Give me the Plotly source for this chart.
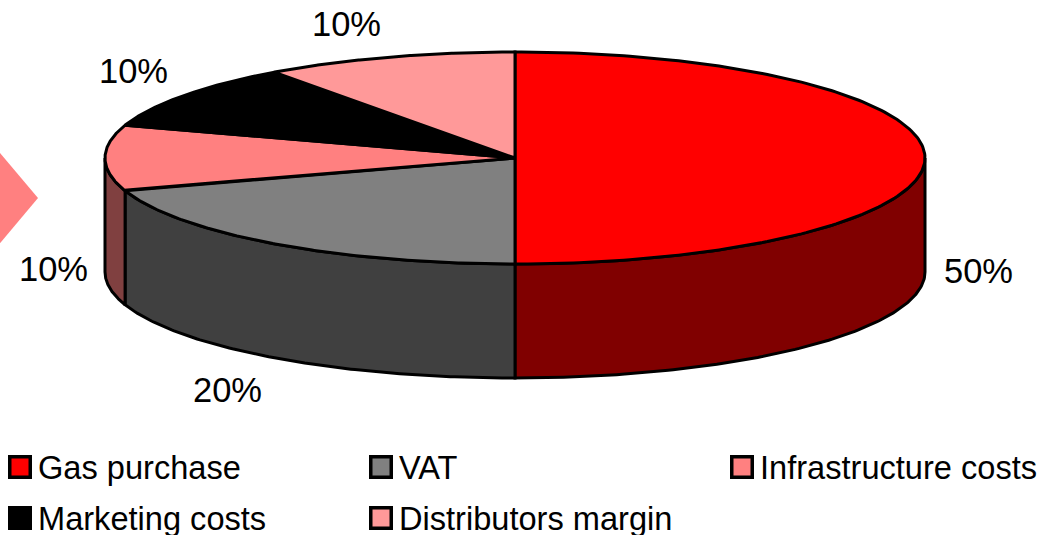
import numpy as np
import plotly.graph_objects as go

categories = ["Gas purchase", "VAT", "Infrastructure costs", "Marketing costs", "Distributors margin"]
values = [50, 20, 10, 10, 10]
top_colors = ["#FF0000", "#808080", "#FF8080", "#000000", "#FF9999"]
side_colors = ["#800000", "#404040", "#804040", "#000000", "#804C4C"]

# Pie geometry on a pixel-like axis
CX, CY, RX, RY, DEPTH = 515, 158, 410, 106, 114
LW = 3
LABEL_FONT = dict(family="Liberation Sans, Arial, sans-serif", size=34.5, color="#000000")
LEGEND_FONT = dict(family="Liberation Sans, Arial, sans-serif", size=32.6, color="#000000")

label_pos = [(978, 271), (227, 390), (53, 269), (133, 71), (346, 24)]
legend_pos = [(20, 467), (381, 467), (742, 467), (20, 518), (381, 518)]


def ell(a_deg):
    a = np.radians(a_deg)
    return CX + RX * np.sin(a), CY - RY * np.cos(a)


fig = go.Figure()
total = sum(values)
edges = np.concatenate([[0], np.cumsum(values)]) * 360 / total

# side walls (only the front half, angle 90..270, is visible)
for i, cat in enumerate(categories):
    a0, a1 = max(edges[i], 90), min(edges[i + 1], 270)
    if a1 <= a0:
        continue
    t = np.linspace(a0, a1, 120)
    x, y = ell(t)
    xs = np.concatenate([x, x[::-1], x[:1]])
    ys = np.concatenate([y, y[::-1] + DEPTH, y[:1]])
    fig.add_trace(go.Scatter(x=xs, y=ys, mode="lines", fill="toself", fillcolor=side_colors[i],
                             line=dict(color="#000000", width=LW), name=cat + " side",
                             showlegend=False, hoverinfo="skip"))

# top faces
for i, cat in enumerate(categories):
    t = np.linspace(edges[i], edges[i + 1], 200)
    x, y = ell(t)
    xs = np.concatenate([[CX], x, [CX]])
    ys = np.concatenate([[CY], y, [CY]])
    fig.add_trace(go.Scatter(x=xs, y=ys, mode="lines", fill="toself", fillcolor=top_colors[i],
                             line=dict(color="#000000", width=LW), name=cat,
                             showlegend=False, hoverinfo="name"))

# legend swatches
for i, cat in enumerate(categories):
    fig.add_trace(go.Scatter(x=[legend_pos[i][0]], y=[legend_pos[i][1]], mode="markers",
                             marker=dict(symbol="square", size=20.5, color=top_colors[i],
                                         line=dict(color="#000000", width=3.5)),
                             name=cat, showlegend=False, hoverinfo="name"))

annotations = []
for v, (lx, ly) in zip(values, label_pos):
    annotations.append(dict(x=lx, y=ly, text=f"{v}%", showarrow=False, xanchor="center",
                            yanchor="middle", font=LABEL_FONT))
for cat, (lx, ly) in zip(categories, legend_pos):
    annotations.append(dict(x=lx + 15.5, y=ly, text=cat, showarrow=False, xanchor="left",
                            yanchor="middle", font=LEGEND_FONT))

fig.update_layout(
    width=1046, height=535, autosize=False,
    margin=dict(l=0, r=0, t=0, b=0),
    paper_bgcolor="#FFFFFF", plot_bgcolor="#FFFFFF",
    showlegend=False,
    xaxis=dict(range=[0, 1046], visible=False, fixedrange=True),
    yaxis=dict(range=[535, 0], visible=False, fixedrange=True),
    annotations=annotations,
    shapes=[dict(type="path", xref="x", yref="y", layer="below",
                 path="M -10 141 L 38 198 L -10 255 Z",
                 fillcolor="#FF8080", line=dict(width=0))],
)
fig.write_html("out.html", config={"displayModeBar": False},
               post_script="document.body.style.margin='0';document.documentElement.style.overflow='hidden';")
